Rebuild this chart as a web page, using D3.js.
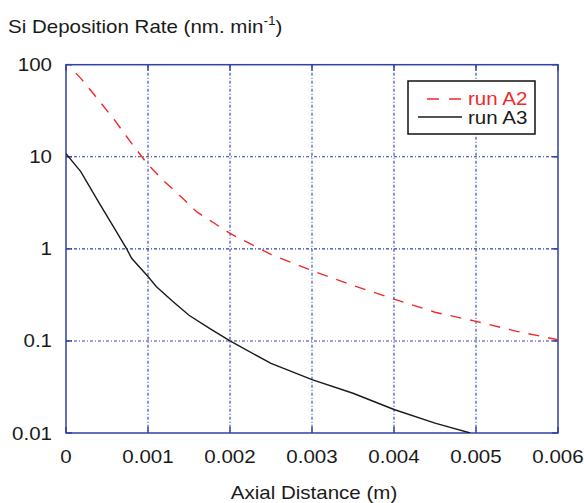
<!DOCTYPE html>
<meta charset="utf-8">
<style>
body { margin: 0; background: #fff; }
text { font-family: "Liberation Sans", Arial, sans-serif; font-size: 18px; fill: #1a1a1a; }
.grid { stroke: #2f42a6; stroke-width: 1.1px; stroke-dasharray: 3,2,1,2; }
.frame { fill: none; stroke: #2f42a6; stroke-width: 1.5px; }
.tick { stroke: #2f42a6; stroke-width: 1.5px; }
.line { fill: none; }
</style>
<body>
<script src="https://cdn.jsdelivr.net/npm/d3@7"></script>
<script>

var margin = {top: 64.7, right: 26, bottom: 70, left: 66},
    width = 584 - margin.left - margin.right,
    height = 503 - margin.top - margin.bottom;

// run A2 (red dashed)
var a2X = [0.00012, 0.00018, 0.00023, 0.0004, 0.0006, 0.0008, 0.001, 0.0012, 0.0014, 0.0016,
           0.0018, 0.002, 0.0025, 0.003, 0.0035, 0.004, 0.0045, 0.005, 0.0055, 0.006];
var a2Y = [81, 71, 63, 41, 24.5, 14, 8.2, 5.4, 3.7, 2.5,
           1.92, 1.47, 0.87, 0.58, 0.40, 0.285, 0.205, 0.163, 0.127, 0.103];

// run A3 (black solid)
var a3X = [0, 0.00018, 0.0004, 0.0006, 0.00074, 0.0008, 0.001, 0.0011, 0.0013, 0.0015,
           0.00176, 0.002, 0.0025, 0.003, 0.0035, 0.004, 0.0045, 0.00493];
var a3Y = [10.8, 6.9, 3.2, 1.62, 1.0, 0.79, 0.50, 0.39, 0.27, 0.19,
           0.135, 0.1, 0.057, 0.038, 0.027, 0.018, 0.0128, 0.01];

var xTicks = [0, 0.001, 0.002, 0.003, 0.004, 0.005, 0.006];
var xTickLabels = ["0", "0.001", "0.002", "0.003", "0.004", "0.005", "0.006"];
var yTicks = [0.01, 0.1, 1, 10, 100];
var yTickLabels = ["0.01", "0.1", "1", "10", "100"];

var x = d3.scaleLinear().domain([0, 0.006]).range([0, width]);
var y = d3.scaleLog().domain([0.01, 100]).range([height, 0]);

// the original text is a bit wider than it is tall
var sx = 1.14;
function place(sel, px, py) {
  return sel.attr("transform", function(d, i) {
    var a = typeof px === "function" ? px(d, i) : px,
        b = typeof py === "function" ? py(d, i) : py;
    return "translate(" + a + "," + b + ") scale(" + sx + ",1)";
  });
}

var svg = d3.select("body").append("svg")
    .attr("width", 584)
    .attr("height", 503);

var g = svg.append("g")
    .attr("transform", "translate(" + margin.left + "," + margin.top + ")");

// grid
g.selectAll(".gx").data(xTicks.slice(1, -1)).enter().append("line")
    .attr("class", "grid")
    .attr("x1", function(d) { return x(d); }).attr("x2", function(d) { return x(d); })
    .attr("y1", 0).attr("y2", height);
g.selectAll(".gy").data(yTicks.slice(1, -1)).enter().append("line")
    .attr("class", "grid")
    .attr("y1", function(d) { return y(d); }).attr("y2", function(d) { return y(d); })
    .attr("x1", 0).attr("x2", width);

// inward tick marks
var tl = 6;
xTicks.forEach(function(d) {
  g.append("line").attr("class", "tick").attr("x1", x(d)).attr("x2", x(d)).attr("y1", height).attr("y2", height - tl);
  g.append("line").attr("class", "tick").attr("x1", x(d)).attr("x2", x(d)).attr("y1", 0).attr("y2", tl);
});
yTicks.forEach(function(d) {
  g.append("line").attr("class", "tick").attr("y1", y(d)).attr("y2", y(d)).attr("x1", 0).attr("x2", tl);
  g.append("line").attr("class", "tick").attr("y1", y(d)).attr("y2", y(d)).attr("x1", width).attr("x2", width - tl);
});

g.append("rect").attr("class", "frame")
    .attr("width", width).attr("height", height);

// tick labels
place(g.selectAll(".xl").data(xTicks).enter().append("text"),
      function(d) { return x(d); }, height + 30)
    .attr("text-anchor", "middle")
    .text(function(d, i) { return xTickLabels[i]; });
place(g.selectAll(".yl").data(yTicks).enter().append("text"),
      -14, function(d) { return y(d) + 6.5; })
    .attr("text-anchor", "end")
    .text(function(d, i) { return yTickLabels[i]; });

// lines
g.append("clipPath").attr("id", "clip").append("rect")
    .attr("width", width).attr("height", height);

var line = d3.line()
    .x(function(d) { return x(d[0]); })
    .y(function(d) { return y(d[1]); });

g.append("path")
    .datum(d3.zip(a2X, a2Y))
    .attr("class", "line")
    .attr("clip-path", "url(#clip)")
    .attr("stroke", "#ee2a2a")
    .attr("stroke-width", 1.4)
    .attr("stroke-dasharray", "11,9")
    .attr("d", line);

g.append("path")
    .datum(d3.zip(a3X, a3Y))
    .attr("class", "line")
    .attr("clip-path", "url(#clip)")
    .attr("stroke", "#1a1a1a")
    .attr("stroke-width", 1.4)
    .attr("d", line);

// axis titles
var title = place(svg.append("text"), 8, 33);
title.append("tspan").text("Si Deposition Rate (nm. min");
title.append("tspan").attr("font-size", "12px").attr("dy", -8).text("-1");
title.append("tspan").attr("dy", 8).text(")");

place(svg.append("text"), margin.left + width / 2 + 2, 499)
    .attr("text-anchor", "middle")
    .text("Axial Distance (m)");

// legend
var lg = svg.append("g");
lg.append("rect")
    .attr("x", 408).attr("y", 81).attr("width", 127).attr("height", 53)
    .attr("fill", "#fff").attr("stroke", "#111").attr("stroke-width", 1.5);
lg.append("line")
    .attr("x1", 427).attr("x2", 461).attr("y1", 99).attr("y2", 99)
    .attr("stroke", "#ee2a2a").attr("stroke-width", 1.4).attr("stroke-dasharray", "12,10");
lg.append("line")
    .attr("x1", 418).attr("x2", 462).attr("y1", 117).attr("y2", 117)
    .attr("stroke", "#1a1a1a").attr("stroke-width", 1.4);
place(lg.append("text"), 468, 105).style("fill", "#ee2a2a").text("run A2");
place(lg.append("text"), 468, 123.5).text("run A3");

</script>
</body>
